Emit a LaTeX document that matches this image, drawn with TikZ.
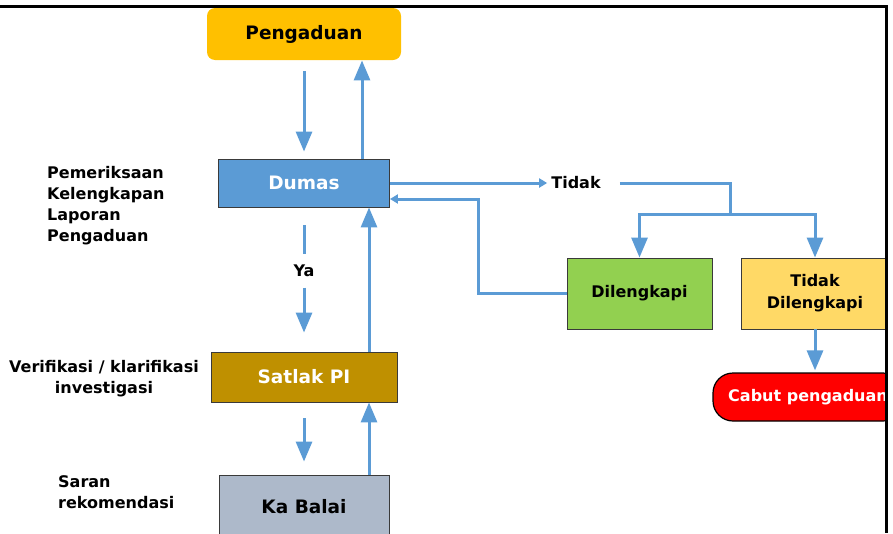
\documentclass[tikz,border=0pt]{standalone}
\usepackage{fontspec}
\setmainfont{DejaVu Sans}
\usetikzlibrary{positioning,arrows.meta}

\definecolor{flowblue}{HTML}{5B9BD5}
\definecolor{pengfill}{HTML}{FFC000}
\definecolor{satlakfill}{HTML}{BF9000}
\definecolor{balaifill}{HTML}{ADB9CA}
\definecolor{dilfill}{HTML}{92D050}
\definecolor{tdfill}{HTML}{FFD966}
\definecolor{edge}{HTML}{3A3A3A}

\begin{document}
\begin{tikzpicture}[x=1pt, y=-1pt,
  lbl/.style={font=\bfseries\fontsize{16}{21}\selectfont, inner sep=0pt},
  box/.style={draw=edge, line width=0.9pt, inner sep=0pt, font=\bfseries\fontsize{18.5}{22}\selectfont},
  smallbox/.style={box, font=\bfseries\fontsize{16}{22}\selectfont},
  flow/.style={-{Triangle[width=16pt,length=20pt]}, draw=flowblue, line width=3pt},
  flowsmall/.style={-{Triangle[width=9pt,length=8pt]}, draw=flowblue, line width=3pt},
  link/.style={draw=flowblue, line width=3pt}]
  \useasboundingbox (0,0) rectangle (893,533);

  \begin{scope}
  \clip (0,7) rectangle (886,533);
  % main column
  \node[box, draw=none, fill=pengfill, rounded corners=8pt, minimum width=194pt, minimum height=52pt] (pengaduan) at (304,34) {Pengaduan};
  \node[box, fill=flowblue, text=white, minimum width=171pt, minimum height=48pt] (dumas) at (304,183) {Dumas};
  \node[lbl, minimum height=33pt] (ya) at (304,271) {Ya};
  \node[box, fill=satlakfill, text=white, minimum width=186pt, minimum height=50pt] (satlak) at (304,377) {Satlak PI};
  \node[box, fill=balaifill, minimum width=170pt, minimum height=64pt] (kabalai) at (304,507) {Ka Balai};

  % side notes
  \node[lbl, align=left, anchor=west] (pemeriksaan) at (47,206) {Pemeriksaan\\Kelengkapan\\Laporan\\Pengaduan};
  \node[lbl, align=center] (verifikasi) at (104,379) {Verifikasi / klarifikasi\\investigasi};
  \node[lbl, align=left, anchor=west] (saran) at (58,492) {Saran\\rekomendasi};

  % right branch
  \node[lbl, inner sep=4pt] (tidak) at (576,183) {Tidak};
  \coordinate (split) at (730,214);
  \node[smallbox, fill=dilfill, minimum width=145pt, minimum height=71pt] (dilengkapi) at (639.5,293.5) {Dilengkapi};
  \node[smallbox, fill=tdfill, align=center, minimum width=148pt, minimum height=71pt] (tidakleng) at (815,293.5) {Tidak\\Dilengkapi};
  \node[smallbox, fill=red, text=white, draw=black, line width=1.2pt, rounded corners=20pt, minimum width=190pt, minimum height=48pt] (cabut) at (808,397) {Cabut pengaduan};

  % connectors
  \draw[flow] ([yshift=-11pt]pengaduan.south) -- ([yshift=7pt]dumas.north);
  \draw[flow] ([xshift=58pt]dumas.north) -- ([xshift=58pt]dumas.north |- pengaduan.south);
  \draw[link] ([yshift=-18pt]dumas.south) -- (ya.north);
  \draw[flow] (ya.south) -- ([yshift=19pt]satlak.north);
  \draw[flow] ([xshift=65pt]satlak.north) -- ([xshift=65pt]satlak.north |- dumas.south);
  \draw[flow] ([yshift=-16pt]satlak.south) -- ([yshift=13pt]kabalai.north);
  \draw[flow] ([xshift=65pt]kabalai.north) -- ([xshift=65pt]kabalai.north |- satlak.south);

  \draw[flowsmall] (dumas.east) -- (tidak.west);
  \draw[link] ([xshift=15pt]tidak.east) -| (split);
  \draw[flow] (split) -| (dilengkapi.north);
  \draw[flow] (split) -| (tidakleng.north);
  \draw[flowsmall] (dilengkapi.west) -- ++(-88,0) |- ([yshift=-16pt]dumas.east);
  \draw[flow] (tidakleng.south) -- ([yshift=2pt]tidakleng.south |- cabut.north);
  \end{scope}

  % frame
  \draw[line width=2.5pt] (0,6.5) -- (886.5,6.5) -- (886.5,533);
\end{tikzpicture}
\end{document}
